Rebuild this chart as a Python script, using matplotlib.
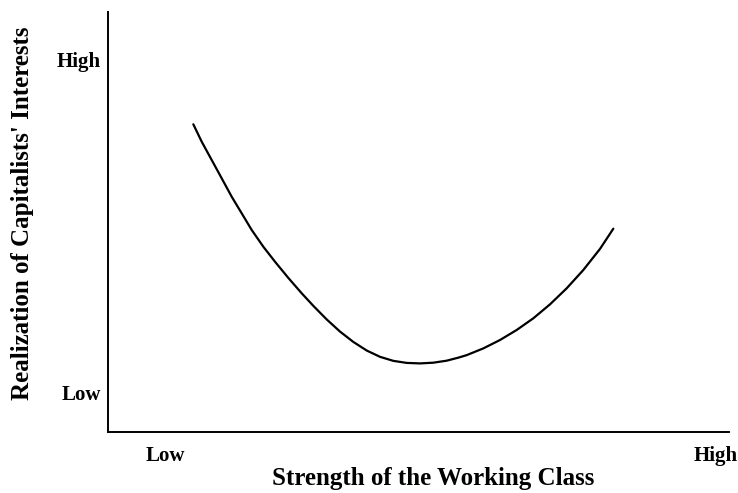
import matplotlib
matplotlib.use("Agg")
import matplotlib.pyplot as plt

# Curve (abstract 0-100 units)
strength = [13.74, 15.09, 16.70, 18.31, 19.92, 21.53, 23.14, 25.01, 26.89, 29.03,
            31.19, 33.06, 35.22, 37.36, 39.50, 41.66, 43.80, 45.94, 48.10, 50.24,
            52.38, 54.54, 56.41, 57.76, 60.43, 63.12, 65.81, 68.49, 71.18, 73.86,
            76.54, 79.23, 81.37]
realization = [73.26, 69.12, 64.76, 60.40, 56.02, 52.07, 48.10, 44.12, 40.55, 36.70,
               33.03, 30.04, 26.80, 23.91, 21.45, 19.40, 17.90, 16.94, 16.45, 16.33,
               16.50, 16.98, 17.70, 18.30, 19.90, 21.90, 24.29, 27.07, 30.40, 34.21,
               38.57, 43.60, 48.40]

x_tick_pos = [9.2, 97.9]
x_tick_labels = ["Low", "High"]
y_tick_pos = [9.5, 88.6]
y_tick_labels = ["Low", "High"]

plt.rcParams['font.family'] = ['Liberation Serif', 'DejaVu Serif']

fig = plt.figure(figsize=(7.38, 4.93), dpi=100)
ax = fig.add_axes([108/738, 61/493, 621/738, 420/493])
ax.plot(strength, realization, color='black', lw=1.6, solid_capstyle='round',
        solid_joinstyle='round')
ax.set_xlim(0, 100)
ax.set_ylim(0, 100)
ax.spines['top'].set_visible(False)
ax.spines['right'].set_visible(False)
ax.spines['left'].set_linewidth(1.4)
ax.spines['bottom'].set_linewidth(1.4)
ax.set_xticks(x_tick_pos)
ax.set_xticklabels(x_tick_labels, fontsize=15, fontweight='bold')
ax.set_yticks(y_tick_pos)
ax.set_yticklabels(y_tick_labels, fontsize=15, fontweight='bold')
ax.tick_params(axis='y', length=0, pad=5)
ax.tick_params(axis='x', length=0, pad=10)
ax.set_xlabel("Strength of the Working Class", fontsize=18, fontweight='bold')
ax.set_ylabel("Realization of Capitalists' Interests", fontsize=18, fontweight='bold')
ax.xaxis.set_label_coords(0.524, -0.111, transform=ax.transAxes)
ax.yaxis.set_label_coords(-0.138, 0.52, transform=ax.transAxes)
ax.xaxis.label.set_verticalalignment('center')
ax.yaxis.label.set_verticalalignment('center')
fig.savefig("out.png", dpi=100)
